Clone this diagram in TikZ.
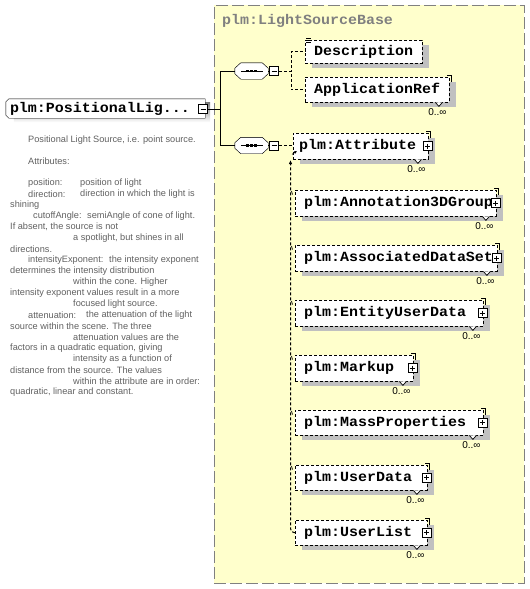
\documentclass[tikz,border=0pt]{standalone}
\usepackage{fontspec}
\setmainfont{Liberation Sans}
\newfontfamily\elemfamily{Liberation Mono}[FakeStretch=1.07]
\usetikzlibrary{shadows,arrows.meta}

\definecolor{typebg}{HTML}{FFFFCC}
\definecolor{shade}{HTML}{C0C0C0}
\definecolor{doctext}{HTML}{606060}
\definecolor{framegray}{HTML}{808080}

\pgfdeclarelayer{back}
\pgfdeclarelayer{background}
\pgfsetlayers{back,background,main}

\newcommand{\elemfont}{\elemfamily\bfseries\fontsize{14}{14}\selectfont}
\newcommand{\docfont}{\fontsize{9.2}{11}\selectfont}
\newcommand{\multfont}{\fontsize{10}{10}\selectfont}

\tikzset{
  typebox/.style={draw=framegray, fill=typebg, dash pattern=on 12pt off 4pt,
    anchor=north west, minimum width=310pt, minimum height=578pt, inner sep=0pt},
  title/.style={anchor=west, inner sep=0pt, font=\elemfont, text=framegray},
  elem/.style={draw, dash pattern=on 3pt off 2pt, fill=white, anchor=north west,
    minimum height=26pt, inner xsep=9pt, inner ysep=0pt, align=left, font=\elemfont,
    drop shadow={shadow xshift=7pt, shadow yshift=-5pt, fill=shade, opacity=1}},
  topbox/.style={minimum height=19pt, inner xsep=4pt, inner ysep=0pt, align=left, font=\elemfont},
  seq/.style={minimum width=33pt, minimum height=16pt, inner sep=0pt},
  pm/.style={draw, solid, fill=white, minimum size=9pt, inner sep=0pt, line width=0.8pt},
  plusbox/.style={pm, path picture={
      \draw ([xshift=2pt]path picture bounding box.west) -- ([xshift=-2pt]path picture bounding box.east)
            ([yshift=-2pt]path picture bounding box.north) -- ([yshift=2pt]path picture bounding box.south);}},
  minusbox/.style={pm, path picture={
      \draw ([xshift=2pt]path picture bounding box.west) -- ([xshift=-2pt]path picture bounding box.east);}},
  link/.style={line width=1pt, dash pattern=on 3pt off 2pt},
  mult/.style={anchor=north, inner sep=0pt, font=\multfont},
  doc/.style={anchor=west, inner sep=0pt, font=\docfont, text=doctext}
}

\begin{document}
\begin{tikzpicture}[x=1pt,y=-1pt,line width=0.9pt]
\useasboundingbox (0,0) rectangle (530,589);

% complex type area
\begin{pgfonlayer}{back}
\node[typebox] (base) at (214,5) {};
\end{pgfonlayer}
\node[title] (ttl) at ([xshift=8pt,yshift=-16pt]base.north west) {plm:LightSourceBase};

% global element
\node[topbox, text width=191pt] (main) at (105.5,108.5) {plm:PositionalLig...};
\begin{pgfonlayer}{background}
\fill[shade] ([shift={(8pt,-4pt)}]main.north west) -| ([shift={(5pt,-4pt)}]main.south east) -- ([shift={(8pt,-4pt)}]main.south west) -- cycle;
\draw[fill=white] ([xshift=3pt]main.north west) -- (main.north east) -- (main.south east)
  -- ([xshift=3pt]main.south west) -- ([yshift=3pt]main.south west) -- ([yshift=-3pt]main.north west) -- cycle;
\end{pgfonlayer}
\node[minusbox] (mainM) at (203,109) {};

% compositors
\node[seq] (seq1) at (251.5,71) {};
\node[seq] (seq2) at (251.5,145.5) {};
\foreach \s in {seq1,seq2}{
  \begin{pgfonlayer}{background}
  \fill[shade, shift={(4pt,-4pt)}] ([xshift=6pt]\s.north west) -- ([xshift=-6pt]\s.north east) -- ([yshift=-5.5pt]\s.north east)
    -- ([yshift=5.5pt]\s.south east) -- ([xshift=-6pt]\s.south east) -- ([xshift=6pt]\s.south west)
    -- ([yshift=5.5pt]\s.south west) -- ([yshift=-5.5pt]\s.north west) -- cycle;
  \draw[fill=white] ([xshift=6pt]\s.north west) -- ([xshift=-6pt]\s.north east) -- ([yshift=-5.5pt]\s.north east)
    -- ([yshift=5.5pt]\s.south east) -- ([xshift=-6pt]\s.south east) -- ([xshift=6pt]\s.south west)
    -- ([yshift=5.5pt]\s.south west) -- ([yshift=-5.5pt]\s.north west) -- cycle;
  \end{pgfonlayer}
  \draw ([xshift=6pt]\s.west) -- ([xshift=-5pt]\s.east);
  \foreach \dx in {-4,0,4}
    \fill ([xshift=\dx pt]\s.center) +(-1.3pt,-1.3pt) rectangle +(1.3pt,1.3pt);
}
\node[minusbox] (seq1M) at ([xshift=6pt]seq1.east) {};
\node[minusbox] (seq2M) at ([xshift=6pt]seq2.east) {};

\draw (seq1.west) -- ++(-15,0) coordinate (jn) |- (seq2.west);
\draw (mainM.east) -- (mainM.east -| jn);
\draw (seq1.east) -- (seq1M.west);
\draw (seq2.east) -- (seq2M.west);

% first sequence
\node[elem, text width=99pt, minimum height=23pt] (desc) at (305,40) {Description};
\node[elem, text width=126pt, minimum height=25pt] (appref) at (305,77) {ApplicationRef};
\draw[link] (seq1M.east) -- ++(12,0) |- (desc.west);
\draw[link] (seq1M.east) -- ++(12,0) |- (appref.west);
\draw[line width=0.7pt] (306,38.5) -- ++(5,0) (306,40.5) -- ++(5,0) (306,42.5) -- ++(5,0);

% second sequence
\node[elem, text width=123pt, inner xsep=6pt] (attr) at (293,133) {plm:Attribute};
\node[elem, text width=183pt] (annot) at (295,190) {plm:Annotation3DGroup};
\node[elem, text width=184pt] (assoc) at (295,245) {plm:AssociatedDataSet};
\node[elem, text width=170pt] (euser) at (295,300) {plm:EntityUserData};
\node[elem, text width=100pt] (markup) at (295,355) {plm:Markup};
\node[elem, text width=170pt, minimum height=25pt] (mass) at (295,410) {plm:MassProperties};
\node[elem, text width=114pt, minimum height=25pt] (udata) at (295,465) {plm:UserData};
\node[elem, text width=114pt, minimum height=25pt] (ulist) at (295,520) {plm:UserList};

\draw[link] (seq2M.east) -- (seq2M.east -| attr.west);
\coordinate (up) at (290.5,160);
\draw[link, rounded corners=4pt, -{Latex[length=4pt,width=3.5pt]}] (ulist.west) -| (up);
\draw[line width=0.7pt, -{Latex[length=3pt,width=3pt]}] ([shift={(-1pt,5pt)}]attr.south west) -- ++(5,-3.5);
\foreach \n in {annot,assoc,euser,markup,mass,udata}
  \draw[line width=0.7pt] ([xshift=-3.5pt,yshift=-1pt]\n.north west) -- ++(1,3.5);

\foreach \n in {attr,annot,assoc,euser,markup,mass,udata,ulist}
  \node[plusbox] (\n-p) at ([xshift=-1pt]\n.east) {};

\foreach \n in {appref,attr,annot,assoc,euser,markup,mass,udata,ulist}{
  \draw[line width=0.7pt] ([shift={(-2pt,2pt)}]\n.north east) -- ++(4,0) -- ++(0,7);
  \draw[line width=0.7pt, fill=white] ([xshift=-14pt]\n.south east) -- ++(3.5,4) -- ++(3.5,-4);
  \node[mult] (\n-m) at ([xshift=-12pt,yshift=-6pt]\n.south east) {0..∞};
}

% documentation
\node[doc] (d1) at (28,140) {Positional Light Source, i.e. point source.};
\node[doc] (d2) at (28,161) {Attributes:};
\node[doc] (d3) at (28,183) {position:};
\node[doc] (d3b) at (80,183) {position of light};
\node[doc] (d4) at (28,194) {direction:};
\node[doc] (d4b) at (80,194) {direction in which the light is};
\node[doc] (d5) at (10,205) {shining};
\node[doc] (d6) at (33,216) {cutoffAngle:};
\node[doc] (d6b) at (87,216) {semiAngle of cone of light.};
\node[doc] (d7) at (10,227) {If absent, the source is not};
\node[doc] (d8) at (73,238) {a spotlight, but shines in all};
\node[doc] (d9) at (10,249) {directions.};
\node[doc] (d10) at (28,260) {intensityExponent:};
\node[doc] (d10b) at (109,260) {the intensity exponent};
\node[doc] (d11) at (10,271) {determines the intensity distribution};
\node[doc] (d12) at (73,282) {within the cone. Higher};
\node[doc] (d13) at (10,293) {intensity exponent values result in a more};
\node[doc] (d14) at (73,304) {focused light source.};
\node[doc] (d15) at (28,315) {attenuation:};
\node[doc] (d15b) at (86,315) {the attenuation of the light};
\node[doc] (d16) at (10,326) {source within the scene. The three};
\node[doc] (d17) at (73,337) {attenuation values are the};
\node[doc] (d18) at (10,348) {factors in a quadratic equation, giving};
\node[doc] (d19) at (73,359) {intensity as a function of};
\node[doc] (d20) at (10,370) {distance from the source. The values};
\node[doc] (d21) at (73,381) {within the attribute are in order:};
\node[doc] (d22) at (10,392) {quadratic, linear and constant.};
\end{tikzpicture}
\end{document}
